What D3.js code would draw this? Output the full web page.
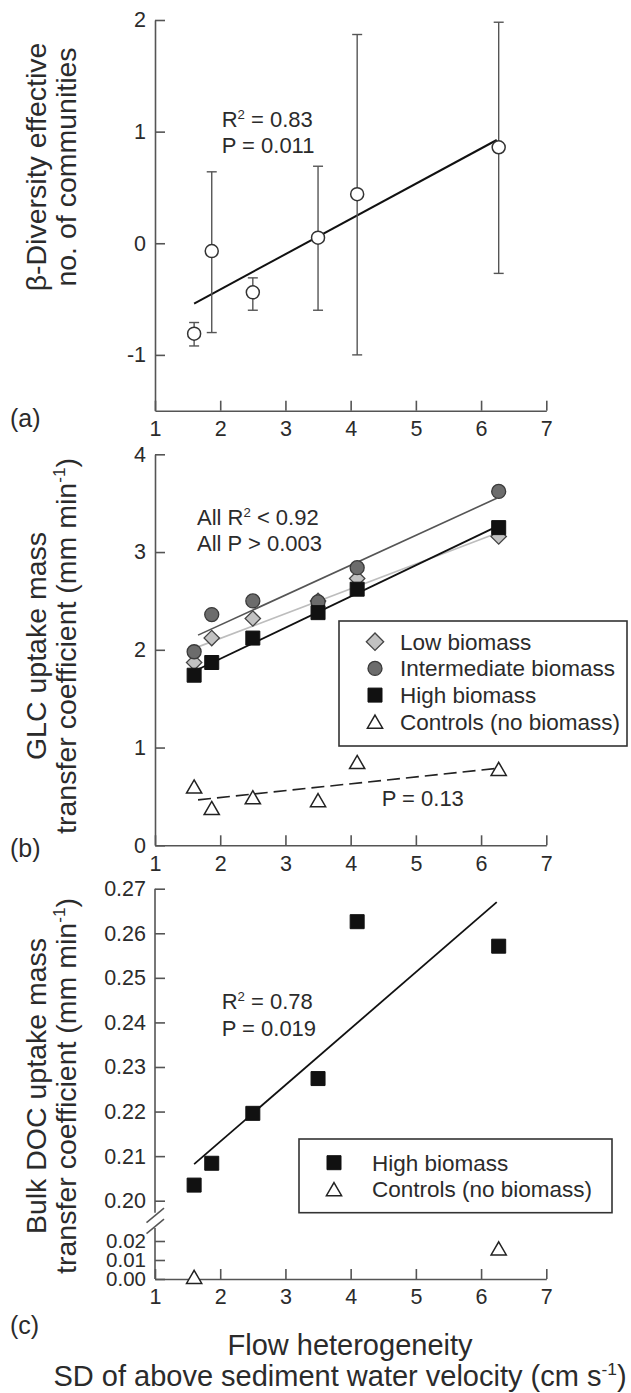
<!DOCTYPE html>
<html><head><meta charset="utf-8">
<script src="https://cdn.jsdelivr.net/npm/d3@7"></script>
<style>
html,body{margin:0;padding:0;background:#fff;}
svg{display:block;}
</style></head><body>
<svg id="chart" width="631" height="1393"></svg>
<script>
// ---------------- DATA ----------------
const xTicks = [1, 2, 3, 4, 5, 6, 7];
const flowX = [1.6, 1.87, 2.5, 3.5, 4.1, 6.27];

// (a) beta diversity
const betaMean  = [-0.81, -0.07, -0.44, 0.05, 0.44, 0.86];
const betaUpper = [-0.71, 0.64, -0.31, 0.69, 1.87, 1.98];
const betaLower = [-0.92, -0.80, -0.60, -0.60, -1.00, -0.27];
const betaFitX = [1.6, 6.24];
const betaFitY = [-0.54, 0.925];
const betaTicks = [-1, 0, 1, 2];

// (b) GLC uptake
const lowBiomass  = [1.87, 2.12, 2.32, 2.50, 2.73, 3.16];
const intBiomass  = [1.98, 2.36, 2.50, 2.49, 2.84, 3.62];
const highBiomass = [1.74, 1.87, 2.12, 2.38, 2.62, 3.25];
const controlsGLC = [0.60, 0.38, 0.49, 0.46, 0.85, 0.78];
const lowFitX = [1.66, 6.27],  lowFitY = [2.03, 3.20];
const intFitX = [1.66, 6.24],  intFitY = [2.15, 3.55];
const highFitX = [1.6, 6.27],  highFitY = [1.78, 3.27];
const ctrlFitX = [1.66, 6.29], ctrlFitY = [0.465, 0.79];
const glcTicks = [0, 1, 2, 3, 4];
const legendB = ['Low biomass', 'Intermediate biomass', 'High biomass', 'Controls (no biomass)'];

// (c) Bulk DOC uptake
const docHigh = [0.2035, 0.2084, 0.2196, 0.2274, 0.2626, 0.2571];
const docCtrlX = [1.6, 6.27];
const docCtrlY = [0.001, 0.016];
const docFitX = [1.6, 6.24], docFitY = [0.2082, 0.2670];
const docTicksUpper = [0.20, 0.21, 0.22, 0.23, 0.24, 0.25, 0.26, 0.27];
const docTicksLower = [0.00, 0.01, 0.02];
const legendC = ['High biomass', 'Controls (no biomass)'];

// ---------------- STYLE / LAYOUT ----------------
const FONT = '"Liberation Sans", Arial, Helvetica, sans-serif';
const TXT = '#2b2b2b';
const AX = '#555';
const TITLE_FS = 28.5;
const TL1 = 46, TL2 = 76;   // y-title line positions
const svg = d3.select('#chart').attr('font-family', FONT);

const x = d3.scaleLinear().domain([1, 7]).range([155, 546.3]);

function styleAxis(g, fs) {
  g.attr('font-family', null).attr('font-size', null);
  g.selectAll('path, line').attr('stroke', AX).attr('stroke-width', 1.6);
  g.selectAll('text').attr('font-size', fs || 21.5).attr('fill', TXT).attr('font-family', FONT);
}
function xAxis(yPos) {
  const g = svg.append('g').attr('transform', `translate(0,${yPos})`)
    .call(d3.axisBottom(x).tickValues(xTicks).tickSizeInner(-10).tickSizeOuter(0)
      .tickPadding(10).tickFormat(d => String(d)));
  styleAxis(g);
  return g;
}
function yAxis(scale, ticks, fmt, noDomain) {
  const g = svg.append('g').attr('transform', `translate(${x(1)},0)`)
    .call(d3.axisLeft(scale).tickValues(ticks).tickSizeInner(-10).tickSizeOuter(0)
      .tickPadding(9).tickFormat(fmt));
  if (noDomain) g.select('.domain').remove();
  styleAxis(g);
  return g;
}
function fitLine(sx, sy, xs, ys) {
  return d3.line().x(d => x(d[0])).y(d => sy(d[1]))(d3.zip(xs, ys));
}
function addText(xp, yp, parts, fs, anchor, rotate) {
  const t = svg.append('text').attr('x', xp).attr('y', yp).attr('font-size', fs)
    .attr('fill', TXT).attr('text-anchor', anchor || 'start');
  if (rotate) t.attr('transform', `rotate(-90,${xp},${yp})`);
  parts.forEach(p => {
    const ts = t.append('tspan').text(p.t);
    if (p.sup) ts.attr('font-size', fs * 0.6).attr('dy', -fs * 0.38);
    if (p.after) ts.attr('dy', fs * 0.38);
  });
  return t;
}

// marker symbols
const sym = {
  diamond: d3.symbol(d3.symbolSquare, 118)(),
  diamondL: d3.symbol(d3.symbolSquare, 150)(),
  circle: d3.symbol(d3.symbolCircle, Math.PI * 7 * 7)(),
  square: d3.symbol(d3.symbolSquare, 196)(),
  triangle: d3.symbol(d3.symbolTriangle, 100)()
};
const mstyle = {
  diamond: {fill: '#c2c2c2', stroke: '#444', sw: 1.3, rot: 45, dy: 0},
  diamondL: {fill: '#c2c2c2', stroke: '#444', sw: 1.3, rot: 45, dy: 0},
  circle: {fill: '#6c6c6c', stroke: '#3a3a3a', sw: 1.3, rot: 0, dy: 0},
  square: {fill: '#111', stroke: '#111', sw: 1, rot: 0, dy: 0},
  triangle: {fill: '#fff', stroke: '#222', sw: 1.5, rot: 0, dy: 2}
};
function marker(type, cx, cy) {
  const s = mstyle[type];
  svg.append('path').attr('d', sym[type])
    .attr('transform', `translate(${cx},${cy + s.dy}) rotate(${s.rot})`)
    .attr('fill', s.fill).attr('stroke', s.stroke).attr('stroke-width', s.sw);
}

// ---------------- PANEL (a) ----------------
const ya = d3.scaleLinear().domain([-1.5, 2]).range([410.7, 20]);
yAxis(ya, betaTicks, d => String(d));
xAxis(ya(-1.5));

svg.append('path').attr('d', fitLine(x, ya, betaFitX, betaFitY))
  .attr('stroke', '#111').attr('stroke-width', 2).attr('fill', 'none');

flowX.forEach((xv, i) => {
  const cx = x(xv);
  svg.append('line').attr('x1', cx).attr('x2', cx)
    .attr('y1', ya(betaLower[i])).attr('y2', ya(betaUpper[i]))
    .attr('stroke', '#555').attr('stroke-width', 1.4);
  [betaLower[i], betaUpper[i]].forEach(v => {
    svg.append('line').attr('x1', cx - 5).attr('x2', cx + 5)
      .attr('y1', ya(v)).attr('y2', ya(v)).attr('stroke', '#555').attr('stroke-width', 1.4);
  });
});
flowX.forEach((xv, i) => {
  svg.append('circle').attr('cx', x(xv)).attr('cy', ya(betaMean[i])).attr('r', 6.5)
    .attr('fill', '#fff').attr('stroke', '#333').attr('stroke-width', 1.5);
});
addText(221.7, 127, [{t: 'R'}, {t: '2', sup: true}, {t: ' = 0.83', after: true}], 22);
addText(221.7, 153, [{t: 'P = 0.011'}], 22);

addText(TL1, 167, [{t: 'β-Diversity effective'}], TITLE_FS, 'middle', true);
addText(TL2, 167, [{t: 'no. of communities'}], TITLE_FS, 'middle', true);
addText(10, 427, [{t: '(a)'}], 25);

// ---------------- PANEL (b) ----------------
const yb = d3.scaleLinear().domain([0, 4]).range([845.3, 454.3]);
yAxis(yb, glcTicks, d => String(d));
xAxis(yb(0));

svg.append('path').attr('d', fitLine(x, yb, lowFitX, lowFitY))
  .attr('stroke', '#bdbdbd').attr('stroke-width', 1.7).attr('fill', 'none');
svg.append('path').attr('d', fitLine(x, yb, intFitX, intFitY))
  .attr('stroke', '#555').attr('stroke-width', 1.6).attr('fill', 'none');
svg.append('path').attr('d', fitLine(x, yb, highFitX, highFitY))
  .attr('stroke', '#111').attr('stroke-width', 1.8).attr('fill', 'none');
svg.append('path').attr('d', fitLine(x, yb, ctrlFitX, ctrlFitY))
  .attr('stroke', '#222').attr('stroke-width', 1.6).attr('fill', 'none')
  .attr('stroke-dasharray', '13,6');

flowX.forEach((xv, i) => marker('diamond', x(xv), yb(lowBiomass[i])));
flowX.forEach((xv, i) => marker('circle', x(xv), yb(intBiomass[i])));
flowX.forEach((xv, i) => marker('square', x(xv), yb(highBiomass[i])));
flowX.forEach((xv, i) => marker('triangle', x(xv), yb(controlsGLC[i])));

addText(197, 525, [{t: 'All R'}, {t: '2', sup: true}, {t: ' < 0.92', after: true}], 22);
addText(197, 551, [{t: 'All P > 0.003'}], 22);
addText(381.7, 806, [{t: 'P = 0.13'}], 22);

// legend (b)
svg.append('rect').attr('x', 339).attr('y', 621).attr('width', 288).attr('height', 125)
  .attr('fill', '#fff').attr('stroke', '#333').attr('stroke-width', 1.6);
const legTypesB = ['diamondL', 'circle', 'square', 'triangle'];
legendB.forEach((lab, i) => {
  const cy = 641.7 + i * 26.7;
  marker(legTypesB[i], 375, cy);
  addText(400, cy + 8, [{t: lab}], 22.5);
});

addText(TL1, 646, [{t: 'GLC uptake mass'}], TITLE_FS, 'middle', true);
addText(TL2, 646, [{t: 'transfer coefficient (mm min'}, {t: '-1', sup: true}, {t: ')', after: true}], TITLE_FS, 'middle', true);
addText(10, 857, [{t: '(b)'}], 25);

// ---------------- PANEL (c) ----------------
const ycU = d3.scaleLinear().domain([0.20, 0.27]).range([1200.7, 888.7]);
const ycL = d3.scaleLinear().domain([0.00, 0.02]).range([1279, 1241]);
yAxis(ycU, docTicksUpper, d3.format('.2f'), true);
const gl = yAxis(ycL, docTicksLower, d3.format('.2f'), true);
gl.selectAll('text').attr('font-size', 20.5);
// broken y axis line
svg.append('line').attr('x1', x(1)).attr('x2', x(1)).attr('y1', ycU(0.27)).attr('y2', ycU(0.20) + 12)
  .attr('stroke', AX).attr('stroke-width', 1.6);
svg.append('line').attr('x1', x(1)).attr('x2', x(1)).attr('y1', ycL(0.02) - 13).attr('y2', ycL(0))
  .attr('stroke', AX).attr('stroke-width', 1.6);
[0, 11].forEach(off => {
  svg.append('line').attr('x1', x(1) - 8.5).attr('y1', ycU(0.20) + 22 + off)
    .attr('x2', x(1) + 9).attr('y2', ycU(0.20) + 7.5 + off)
    .attr('stroke', AX).attr('stroke-width', 1.5);
});
xAxis(ycL(0));

svg.append('path').attr('d', fitLine(x, ycU, docFitX, docFitY))
  .attr('stroke', '#111').attr('stroke-width', 1.8).attr('fill', 'none');
flowX.forEach((xv, i) => marker('square', x(xv), ycU(docHigh[i])));
docCtrlX.forEach((xv, i) => marker('triangle', x(xv), ycL(docCtrlY[i])));

addText(221.7, 1009, [{t: 'R'}, {t: '2', sup: true}, {t: ' = 0.78', after: true}], 22);
addText(221.7, 1036, [{t: 'P = 0.019'}], 22);

// legend (c)
svg.append('rect').attr('x', 299).attr('y', 1139).attr('width', 313).attr('height', 73.7)
  .attr('fill', '#fff').attr('stroke', '#333').attr('stroke-width', 1.6);
const legTypesC = ['square', 'triangle'];
legendC.forEach((lab, i) => {
  const cy = 1162.7 + i * 26.6;
  marker(legTypesC[i], 334, cy);
  addText(372, cy + 8, [{t: lab}], 22.5);
});

addText(TL1, 1086, [{t: 'Bulk DOC uptake mass'}], TITLE_FS, 'middle', true);
addText(TL2, 1086, [{t: 'transfer coefficient (mm min'}, {t: '-1', sup: true}, {t: ')', after: true}], TITLE_FS, 'middle', true);
addText(10, 1334, [{t: '(c)'}], 25);

// x-axis title
addText(350, 1355, [{t: 'Flow heterogeneity'}], 29, 'middle');
addText(340, 1386, [{t: 'SD of above sediment water velocity (cm s'}, {t: '-1', sup: true}, {t: ')', after: true}], 29, 'middle');
</script>
</body></html>
